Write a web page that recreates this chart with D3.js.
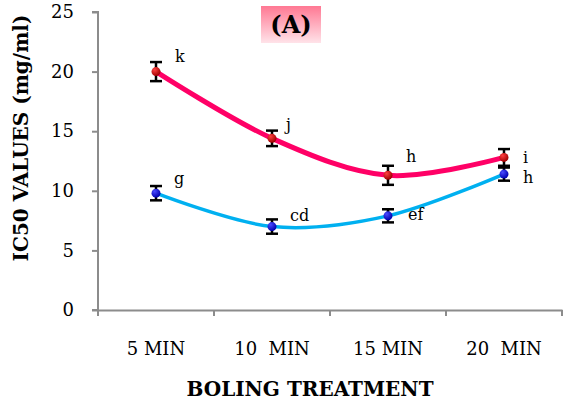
<!DOCTYPE html>
<html>
<head>
<meta charset="utf-8">
<script src="https://cdn.jsdelivr.net/npm/d3@7/dist/d3.min.js"></script>
<style>
  html, body { margin: 0; padding: 0; background: #fff; }
  svg { display: block; }
  text { font-family: "DejaVu Serif", "Liberation Serif", serif; }
</style>
</head>
<body>
<svg id="chart" width="563" height="404"></svg>
<script>
// Boiling time categories
const categories = ["5 MIN", "10  MIN", "15 MIN", "20  MIN"];
// IC50 means (mg/ml) and their standard errors
const redValues  = [20.0, 14.4, 11.3, 12.8];
const redErrors  = [0.8, 0.65, 0.8, 0.7];
const redLetters = ["k", "j", "h", "i"];
const blueValues  = [9.8, 7.0, 7.9, 11.4];
const blueErrors  = [0.6, 0.6, 0.55, 0.55];
const blueLetters = ["g", "cd", "ef", "h"];
const yTicks = [0, 5, 10, 15, 20, 25];

const svg = d3.select("#chart");
const margin = { left: 98, right: 1, top: 12, bottom: 94 };
const W = 563, H = 404;

const x = d3.scaleBand().domain(categories).range([margin.left, W - margin.right]);
const y = d3.scaleLinear().domain([0, 25]).range([H - margin.bottom, margin.top]);
const cx = d => x(d) + x.bandwidth() / 2;

const defs = svg.append("defs");
const titleGrad = defs.append("linearGradient").attr("id", "titleGrad")
  .attr("x1", 0).attr("y1", 0).attr("x2", 0).attr("y2", 1);
titleGrad.append("stop").attr("offset", "0%").attr("stop-color", "#ff7893");
titleGrad.append("stop").attr("offset", "100%").attr("stop-color", "#ffe3e9");

function markerGrad(id, light, dark) {
  const g = defs.append("radialGradient").attr("id", id)
    .attr("cx", "35%").attr("cy", "30%").attr("r", "70%");
  g.append("stop").attr("offset", "0%").attr("stop-color", light);
  g.append("stop").attr("offset", "100%").attr("stop-color", dark);
}
markerGrad("redDot", "#ff4040", "#a00000");
markerGrad("blueDot", "#4a4aff", "#0000b0");

// Axes
const axisColor = "#8c8c8c";
const yAxis = svg.append("g").attr("transform", `translate(${margin.left},0)`)
  .call(d3.axisLeft(y).tickValues(yTicks).tickSize(6).tickPadding(18));
const xAxis = svg.append("g").attr("transform", `translate(0,${y(0)})`)
  .call(d3.axisBottom(x).tickSize(0).tickPadding(32));
[yAxis, xAxis].forEach(a => {
  a.select(".domain").attr("stroke", axisColor).attr("stroke-width", 2);
  a.selectAll(".tick line").attr("stroke", axisColor).attr("stroke-width", 2);
  a.selectAll("text").attr("fill", "#000").style("font-size", "18px")
    .style("font-family", '"DejaVu Serif", serif');
});
yAxis.select(".domain").attr("d", `M-6,${y(25)}H0V${y(0)}H-6`);
xAxis.selectAll("text").style("white-space", "pre").attr("xml:space", "preserve");

// Category boundary ticks on the x axis
const bounds = categories.map(c => x(c)).concat([x(categories[categories.length - 1]) + x.bandwidth()]);
xAxis.selectAll(".bound").data(bounds).enter().append("line")
  .attr("x1", d => d).attr("x2", d => d).attr("y1", 0).attr("y2", 6)
  .attr("stroke", axisColor).attr("stroke-width", 2);

// Axis titles
svg.append("text")
  .attr("transform", `translate(28,${138}) rotate(-90)`)
  .attr("text-anchor", "middle")
  .style("font-size", "20px").style("font-weight", "bold")
  .text("IC50 VALUES (mg/ml)");
svg.append("text")
  .attr("x", 310).attr("y", 396)
  .attr("text-anchor", "middle")
  .style("font-size", "20px").style("font-weight", "bold")
  .text("BOLING TREATMENT");

// Panel label
svg.append("rect").attr("x", 261).attr("y", 6).attr("width", 60).attr("height", 37)
  .attr("fill", "url(#titleGrad)");
svg.append("text").attr("x", 291).attr("y", 33).attr("text-anchor", "middle")
  .style("font-size", "24px").style("font-weight", "bold").text("(A)");

const line = d3.line().x((d, i) => cx(categories[i])).y(d => y(d))
  .curve(d3.curveCardinal.tension(0));

function drawSeries(values, errors, letters, color, width, dot, offsets) {
  const g = svg.append("g");
  g.append("path").datum(values).attr("d", line)
    .attr("fill", "none").attr("stroke", color).attr("stroke-width", width)
    .attr("stroke-linecap", "round");
  const eb = g.selectAll(".eb").data(values).enter().append("g");
  eb.append("line")
    .attr("x1", (d, i) => cx(categories[i])).attr("x2", (d, i) => cx(categories[i]))
    .attr("y1", (d, i) => y(d + errors[i])).attr("y2", (d, i) => y(d - errors[i]))
    .attr("stroke", "#000").attr("stroke-width", 2.5);
  [1, -1].forEach(s => {
    eb.append("line")
      .attr("x1", (d, i) => cx(categories[i]) - 6).attr("x2", (d, i) => cx(categories[i]) + 6)
      .attr("y1", (d, i) => y(d + s * errors[i])).attr("y2", (d, i) => y(d + s * errors[i]))
      .attr("stroke", "#000").attr("stroke-width", 2.5);
  });
  g.selectAll(".dot").data(values).enter().append("circle")
    .attr("cx", (d, i) => cx(categories[i])).attr("cy", d => y(d)).attr("r", 4.5)
    .attr("fill", `url(#${dot})`);
  g.selectAll(".lbl").data(values).enter().append("text")
    .attr("x", (d, i) => cx(categories[i]) + offsets[i][0])
    .attr("y", d => y(d))
    .attr("dy", (d, i) => offsets[i][1])
    .style("font-size", "16px")
    .text((d, i) => letters[i]);
}

drawSeries(redValues, redErrors, redLetters, "#ff0066", 5, "redDot",
  [[19, -10], [14, -8], [18, -13], [19, 6]]);
drawSeries(blueValues, blueErrors, blueLetters, "#00b0f0", 3.5, "blueDot",
  [[18, -9], [18, -6], [20, 4], [19, 9]]);
</script>
</body>
</html>
